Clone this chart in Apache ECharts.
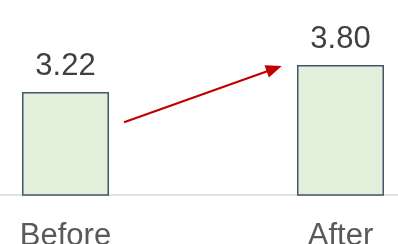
<!DOCTYPE html>
<html><head><meta charset="utf-8">
<script src="https://cdn.jsdelivr.net/npm/echarts@6/dist/echarts.min.js"></script>
<style>html,body{margin:0;padding:0;background:#fff}#c{width:398px;height:244px}</style>
</head><body><div id="c"></div>
<script>
var categories = ['Before', 'After'];
var values = [3.22, 3.80];
var arrowStart = [0.213, 2.568];
var arrowEnd = [0.759, 3.72];

var chart = echarts.init(document.getElementById('c'), null, {renderer: 'canvas'});
chart.setOption({
  animation: false,
  grid: {left: 0, right: 0, top: 32.5, bottom: 49, containLabel: false, outerBoundsMode: 'none'},
  xAxis: {
    type: 'value', min: -0.2382, max: 1.2091,
    splitLine: {show: false},
    axisLine: {show: true, onZero: false, lineStyle: {color: '#D9D9D9', width: 1.5}},
    axisTick: {show: false},
    axisLabel: {show: true, customValues: [0, 1], color: '#595959', fontSize: 31,
      fontFamily: 'Liberation Sans', margin: 26,
      formatter: function (v) { return categories[Math.round(v)]; }}
  },
  yAxis: {type: 'value', min: 1, max: 4.5, show: false, splitLine: {show: false}},
  series: [{
    type: 'bar', data: values.map(function (v, i) { return [i, v]; }), barWidth: 87,
    itemStyle: {color: '#E2EFDA', borderColor: '#44546A', borderWidth: 1.5},
    label: {show: true, position: 'top', distance: 10, color: '#404040', fontSize: 31,
      fontFamily: 'Liberation Sans', formatter: function (p) { return p.value[1].toFixed(2); }}
  }, {
    type: 'line', data: [], silent: true,
    markLine: {
      silent: true, symbol: ['none', 'triangle'], symbolSize: [13, 16],
      lineStyle: {color: '#C00000', width: 2.2, type: 'solid'},
      label: {show: false},
      data: [[{coord: arrowStart}, {coord: arrowEnd}]]
    }
  }]
});
</script></body></html>
